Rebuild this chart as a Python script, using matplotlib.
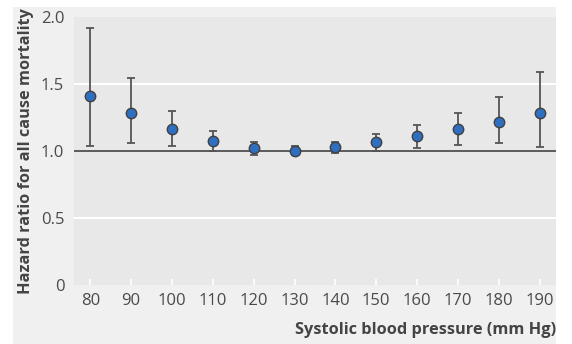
import matplotlib
matplotlib.use("Agg")
import matplotlib.pyplot as plt
from matplotlib.patches import Rectangle

sbp = [80, 90, 100, 110, 120, 130, 140, 150, 160, 170, 180, 190]
hr = [1.41, 1.28, 1.165, 1.075, 1.025, 1.0, 1.03, 1.065, 1.11, 1.167, 1.219, 1.284]
hr_low = [1.04, 1.06, 1.04, 1.0, 0.97, 0.97, 0.983, 1.0, 1.025, 1.047, 1.057, 1.03]
hr_high = [1.915, 1.545, 1.30, 1.15, 1.07, 1.04, 1.067, 1.127, 1.196, 1.28, 1.403, 1.59]
yticks = [0, 0.5, 1.0, 1.5, 2.0]
ytick_labels = ["0", "0.5", "1.0", "1.5", "2.0"]

plt.rcParams['font.family'] = ['Open Sans', 'DejaVu Sans']

W, H = 572, 344
fig = plt.figure(figsize=(W / 100, H / 100), dpi=100)
fig.patch.set_facecolor('white')
fig.patches.append(Rectangle((13 / W, 0), (556 - 13) / W, (H - 7) / H,
                             transform=fig.transFigure, facecolor='#f0f0f0',
                             edgecolor='none', zorder=-10))

ax = fig.add_axes([74 / W, (H - 285) / H, (556 - 74) / W, (285 - 17) / H])
ax.set_zorder(1)
ax.set_facecolor('#e8e8e8')
for s in ax.spines.values():
    s.set_visible(False)

ax.set_xlim(76, 194)
ax.set_ylim(0, 2.0)

for g in [0.5, 1.5]:
    ax.axhline(g, color='white', lw=1.5, zorder=1)
ax.axhline(1.0, color='#444444', lw=1.2, zorder=2)

err_low = [h - l for h, l in zip(hr, hr_low)]
err_high = [u - h for h, u in zip(hr, hr_high)]
ax.errorbar(sbp, hr, yerr=[err_low, err_high], fmt='none', ecolor='#555555',
            elinewidth=1.3, capsize=3, capthick=1.3, zorder=3)
ax.plot(sbp, hr, 'o', markersize=7.5, markerfacecolor='#2e6fc0',
        markeredgecolor='#404040', markeredgewidth=1.0, zorder=4)

ax.set_xticks(sbp)
ax.set_xticklabels([str(v) for v in sbp])
ax.set_yticks(yticks)
ax.set_yticklabels(ytick_labels)
ax.tick_params(axis='x', direction='in', length=4, width=1.2, color='white',
               labelsize=12, labelcolor='#4a4a4a', pad=6)
ax.tick_params(axis='y', length=0, labelsize=12, labelcolor='#4a4a4a', pad=7)

ax.set_ylabel('Hazard ratio for all cause mortality', fontsize=11.8, fontweight='bold',
              color='#444444', labelpad=5)
ax.set_xlabel('Systolic blood pressure (mm Hg)', fontsize=11.8, fontweight='bold',
              color='#444444', loc='right', labelpad=9)

fig.savefig('out.png', dpi=100, facecolor=fig.get_facecolor())
